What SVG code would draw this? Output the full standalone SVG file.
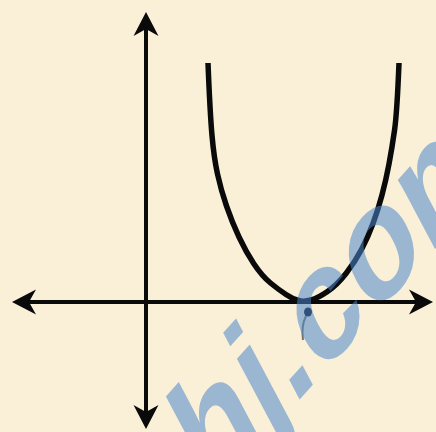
<svg xmlns="http://www.w3.org/2000/svg" width="436" height="432" viewBox="0 0 436 432">
  <style>
    .axis { stroke: #0a0a0a; stroke-width: 4; fill: none; }
    .curve { stroke: #0a0a0a; stroke-width: 5.5; fill: none; stroke-linecap: butt; stroke-linejoin: round; }
    .wm { font-family: "Liberation Sans", Arial, sans-serif; font-weight: bold; font-size: 140px; fill: #4A86CC; fill-opacity: 0.55; }
  </style>
  <defs>
    <marker id="arrow" viewBox="-25 -14 26 28" refX="-16" refY="0" markerWidth="26" markerHeight="28" markerUnits="userSpaceOnUse" orient="auto-start-reverse">
      <path d="M0,0 L-24,-12.5 L-17,0 L-24,12.5 Z" fill="#0a0a0a"/>
    </marker>
  </defs>
  <rect x="0" y="0" width="436" height="432" fill="#FAF0D8"/>
  <g id="connectors">
    <line id="y-axis" class="axis" x1="146" y1="28" x2="146" y2="413" marker-start="url(#arrow)" marker-end="url(#arrow)"/>
    <line id="x-axis" class="axis" x1="28" y1="302" x2="417" y2="302" marker-start="url(#arrow)" marker-end="url(#arrow)"/>
  </g>
  <g id="curve">
    <path class="curve" d="M208,63 Q210,113 212,135.5 Q214,158 217.5,174 Q221,190 226.5,206 Q232,222 239,237 Q246,252 254,264 Q262,276 270.5,283 Q279,290 286,294.5 Q293,299 298.5,300.5 Q304,302 311,300 Q318,298 327.5,291.5 Q337,285 346,273.5 Q355,262 361.5,249.5 Q368,237 373,223.5 Q378,210 382,195 Q386,180 389,164 Q392,148 394.5,130.5 Q397,113 399,63"/>
  </g>
  <g id="mark">
    <ellipse cx="308" cy="312" rx="4" ry="4.5" fill="#111"/>
    <path d="M306,316 Q301,326 303,340" stroke="#222" stroke-width="2" fill="none" opacity="0.6"/>
  </g>
  <g id="watermark">
    <text class="wm" transform="translate(210,499) rotate(-48) skewX(-20)">hj.com</text>
  </g>
</svg>
